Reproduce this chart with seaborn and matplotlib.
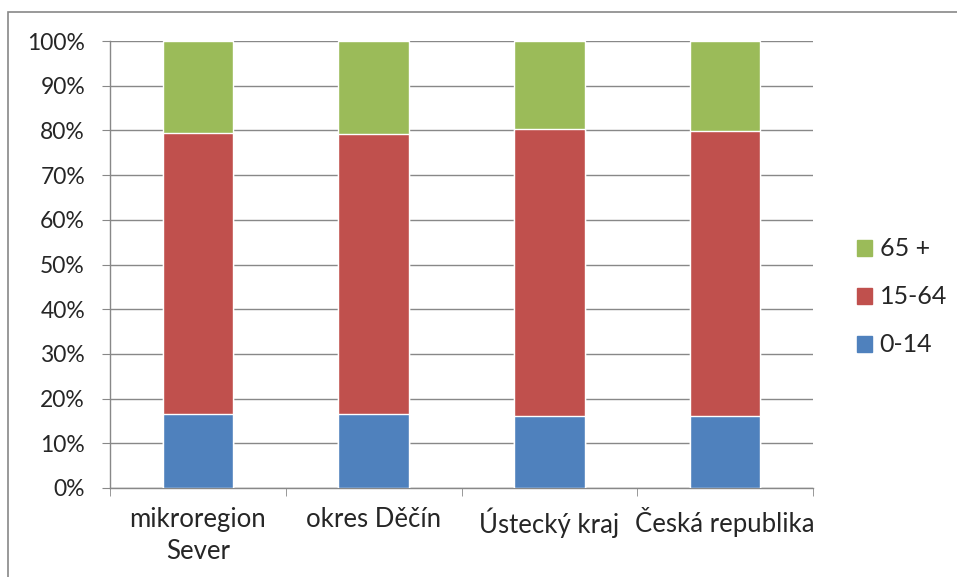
import numpy as np
import pandas as pd
import matplotlib
matplotlib.use("Agg")
import matplotlib.pyplot as plt
import seaborn as sns
from matplotlib.patches import Patch, Rectangle
from matplotlib.ticker import PercentFormatter

regions = ["mikroregion\nSever", "okres Děčín", "Ústecký kraj", "Česká republika"]
age_0_14 = [16.6, 16.6, 16.2, 16.2]
age_15_64 = [62.9, 62.5, 64.1, 63.7]
age_65 = [20.5, 20.9, 19.7, 20.1]

colors = {"0-14": "#4F81BD", "15-64": "#C0504D", "65 +": "#9BBB59"}

sns.set_style("white")
plt.rcParams["font.family"] = ["Lato", "DejaVu Sans"]

df = pd.DataFrame({"region": regions, "0-14": age_0_14,
                   "15-64": age_15_64, "65 +": age_65})
df["lvl2"] = df["0-14"] + df["15-64"]
df["lvl3"] = df["lvl2"] + df["65 +"]

fig = plt.figure(figsize=(9.57, 5.77), dpi=100)
ax = fig.add_axes([110 / 957, 1 - 488 / 577, 703 / 957, 447 / 577])

# stacked bars drawn as overlapping cumulative totals
sns.barplot(data=df, x="region", y="lvl3", color=colors["65 +"], width=0.4,
            saturation=1, ax=ax, zorder=3)
sns.barplot(data=df, x="region", y="lvl2", color=colors["15-64"], width=0.4,
            saturation=1, ax=ax, zorder=3)
sns.barplot(data=df, x="region", y="0-14", color=colors["0-14"], width=0.4,
            saturation=1, ax=ax, zorder=3)

ax.set_ylim(0, 100)
ax.set_xlim(-0.5, 3.5)
ax.set_yticks(np.arange(0, 101, 10))
ax.yaxis.set_major_formatter(PercentFormatter(decimals=0))
ax.yaxis.grid(True, color="#888888", linewidth=1, zorder=0)
ax.set_xlabel("")
ax.set_ylabel("")

for s in ["top", "right"]:
    ax.spines[s].set_visible(False)
for s in ["left", "bottom"]:
    ax.spines[s].set_color("#888888")
    ax.spines[s].set_linewidth(1)

ax.tick_params(axis="y", length=6, color="#888888", labelsize=16.5, pad=12, left=True)
ax.set_xticks(range(len(regions)))
ax.set_xticklabels(regions, linespacing=1.35)
ax.tick_params(axis="x", length=0, labelsize=18.5, pad=14)
# category boundary ticks on the x axis
ax.set_xticks(np.arange(-0.5, 4, 1), minor=True)
ax.tick_params(axis="x", which="minor", length=6, color="#888888", bottom=True)

handles = [Patch(color=colors[k]) for k in ["65 +", "15-64", "0-14"]]
fig.legend(handles, ["65 +", "15-64", "0-14"], loc="center left",
           bbox_to_anchor=(834 / 957, 1 - 297 / 577), frameon=False,
           fontsize=18, handlelength=0.62, handleheight=0.62,
           handletextpad=0.3, labelspacing=1.0)

fig.patches.append(Rectangle((8 / 957, -0.1), 1.2, 1 - 12 / 577 + 0.1,
                             transform=fig.transFigure, fill=False,
                             edgecolor="#888888", linewidth=1.2))

fig.savefig("out.png", dpi=100)
